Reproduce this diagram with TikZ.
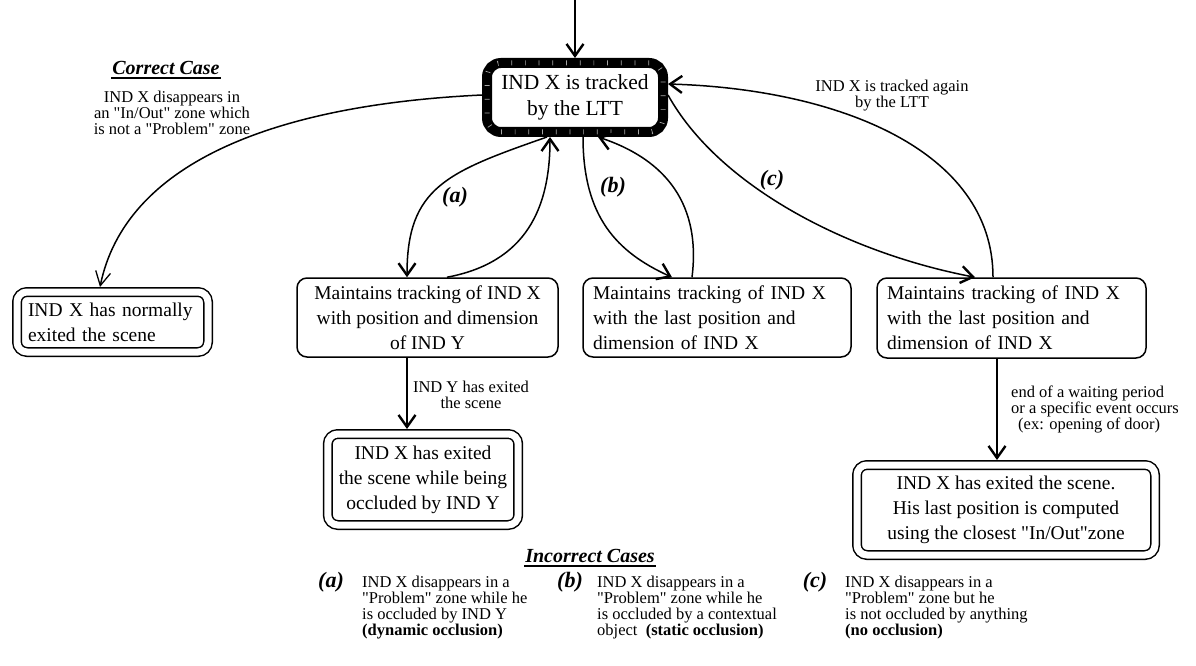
\documentclass[tikz,border=0pt]{standalone}
\usepackage{fontspec}
\setmainfont{Liberation Serif}
\usepackage{tikz}
\usetikzlibrary{arrows.meta,positioning,calc}
\newcommand{\boxfont}{\fontsize{19.5}{25}\selectfont}
\newcommand{\notefont}{\fontsize{16.5}{16}\selectfont}
\newcommand{\casefont}{\fontsize{22}{22}\selectfont\bfseries\itshape}
% straight double quote, kept out of the TeX ligature mapping
\newcommand{\qq}{\XeTeXglyph\XeTeXcharglyph"0022\relax}
\tikzset{
  statebox/.style={draw,line width=1.5pt,rounded corners=10pt,inner xsep=10pt,inner ysep=2pt,font=\boxfont},
  endbox/.style={statebox,double,double distance=7pt,outer sep=5pt,inner xsep=11pt},
  lttbox/.style={statebox,line width=10pt,rounded corners=14pt,outer sep=5pt,align=center,
    font=\fontsize{21.5}{26}\selectfont,
    postaction={draw=gray!70,line width=5pt,dash pattern=on .7pt off 13pt}},
  arr/.style={-{Straight Barb[length=12pt,width=17pt,line width=2.4pt]},line width=1.5pt},
  thinarr/.style={line width=1.5pt,-{Straight Barb[length=14pt,width=15pt,line width=1.3pt]}},
  note/.style={font=\notefont,align=center,inner sep=0pt},
  caselabel/.style={font=\casefont,inner sep=0pt},
  heading/.style={font=\fontsize{20}{20}\selectfont\bfseries\itshape,inner sep=1pt}
}
\begin{document}
\begin{tikzpicture}[x=1pt,y=-1pt]
\useasboundingbox (0,0) rectangle (1196,666);
% states
\node[lttbox,minimum width=176pt,minimum height=69pt] (ltt) at (575,97.5) {IND X is tracked\\by the LTT};
\node[endbox,minimum width=191pt,minimum height=60pt,text width=169pt,align=left] (normal) at (112.5,322) {IND X has normally\\exited the scene};
\node[statebox,minimum width=261pt,minimum height=79pt,align=center] (trackA) at (427.5,317.5) {Maintains tracking of IND X\\with position and dimension\\of IND Y};
\node[statebox,minimum width=268pt,minimum height=79pt,text width=248pt,align=left] (trackB) at (717,317.5) {Maintains tracking of IND X\\with the last position and\\dimension of IND X};
\node[statebox,minimum width=269pt,minimum height=80pt,text width=249pt,align=left] (trackC) at (1011.5,318) {Maintains tracking of IND X\\with the last position and\\dimension of IND X};
\node[endbox,minimum width=190pt,minimum height=91pt,align=center] (exitA) at (423,479.5) {IND X has exited\\the scene while being\\occluded by IND Y};
\node[endbox,minimum width=298pt,minimum height=90pt,align=center] (exitC) at (1006,510) {IND X has exited the scene.\\His last position is computed\\using the closest \qq In/Out\qq zone};
% transitions
\coordinate (entry) at (575,0);
\draw[arr] (entry) -- (ltt);
\draw[thinarr] ([yshift=2.5pt]ltt.west) .. controls +(-212,10) and +(25,-122) .. ([xshift=-12.5pt]normal.north);
\draw[arr] ([xshift=-28pt]ltt.south) .. controls +(-100,35) and +(0,-90) .. ([xshift=-20.5pt]trackA.north);
\draw[arr] ([xshift=19.5pt]trackA.north) .. controls +(80,-15) and +(0,70) .. ([xshift=-25pt]ltt.south);
\draw[arr] ([xshift=8pt]ltt.south) .. controls +(0,80) and +(-55,-25) .. ([xshift=-45pt]trackB.north);
\draw[arr] ([xshift=-25pt]trackB.north) .. controls +(10,-80) and +(60,20) .. ([xshift=23pt]ltt.south);
\draw[arr] ([yshift=2.5pt]ltt.east) .. controls +(50,90) and +(-130,-25) .. ([xshift=-36.5pt]trackC.north);
\draw[arr] ([xshift=-18.5pt]trackC.north) .. controls +(0,-127) and +(170,5) .. ([yshift=13.5pt]ltt.east);
\draw[arr] ([xshift=-20.5pt]trackA.south) coordinate (downA) -- (downA |- exitA.north);
\draw[arr] ([xshift=-14.5pt]trackC.south) coordinate (downC) -- (downC |- exitC.north);
% labels
\node[caselabel] (lblA) at (455,197) {(a)};
\node[caselabel] (lblB) at (613,187) {(b)};
\node[caselabel] (lblC) at (772,180) {(c)};
\node[heading] (correct) at (166,68) {Correct Case};
\draw[line width=1.8pt] ([yshift=-3.5pt]correct.base west) -- ([yshift=-3.5pt]correct.base east);
\node[note] (correctnote) at (172,113) {IND X disappears in\\an \qq In/Out\qq{} zone which\\is not a \qq Problem\qq{} zone};
\node[note] (againnote) at (892,96) {IND X is tracked again\\by the LTT};
\node[note] (ynote) at (471,395) {IND Y has exited\\the scene};
\node[note,align=left] (waitnote) at (1095,409) {end of a waiting period\\or a specific event occurs\\\hspace*{7pt}(ex: opening of door)};
% legend
\node[heading] (incorrect) at (590,556) {Incorrect Cases};
\draw[line width=1.8pt] ([yshift=-3.5pt]incorrect.base west) -- ([yshift=-3.5pt]incorrect.base east);
\foreach \k/\kx/\tx/\body in {
  a/331/362/{IND X disappears in a\\\qq Problem\qq{} zone while he\\is occluded by IND Y\\\textbf{(dynamic occlusion)}},
  b/570/597/{IND X disappears in a\\\qq Problem\qq{} zone while he\\is occluded by a contextual\\object\ \ \textbf{(static occlusion)}},
  c/815/845/{IND X disappears in a\\\qq Problem\qq{} zone but he\\is not occluded by anything\\\textbf{(no occlusion)}}}{
  \node[caselabel] (key\k) at (\kx,582) {(\k)};
  \node[note,align=left,anchor=north west] (text\k) at (\tx,576) {\body};
}
\end{tikzpicture}
\end{document}
